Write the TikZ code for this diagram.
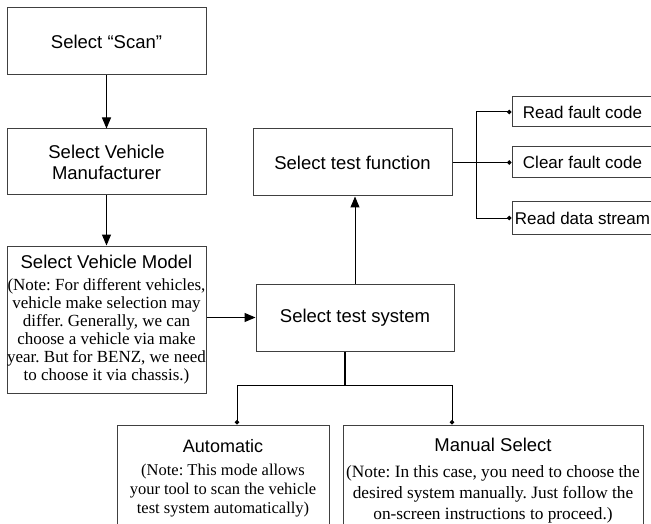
\documentclass[tikz,border=0pt]{standalone}
\usepackage{fontspec}
\setmainfont{Liberation Serif}
\newfontfamily\arialf{Liberation Sans}
\usetikzlibrary{arrows.meta,calc}
\frenchspacing
\newcommand\hdA{\arialf\fontsize{18.5}{21}\selectfont}
\newcommand\hdB{\arialf\fontsize{18}{21}\selectfont}
\newcommand\hdC{\arialf\fontsize{17}{20}\selectfont}
\newcommand\ntA{\fontsize{17}{18}\selectfont}
\newcommand\ntB{\fontsize{16.5}{19}\selectfont}
\newcommand\ntC{\fontsize{17.3}{21}\selectfont}
\begin{document}
\begin{tikzpicture}[x=1pt,y=-1pt,
  box/.style={draw=black!75,line width=1pt,inner sep=0pt,align=center},
  arr/.style={draw=black,line width=1pt,-{Triangle[length=11pt,width=9pt]}},
  dotline/.style={draw=black,line width=1pt,-{Circle[length=4.5pt]}},
  plain/.style={draw=black,line width=1.1pt}]
\clip (0,0) rectangle (651,524);
\fill[white] (0,0) rectangle (651,524);

\node[box,font=\hdA,minimum width=199,minimum height=67] (scan) at (106.5,41.5) {Select “Scan”};
\node[box,font=\hdA,minimum width=199,minimum height=66] (manu) at (106.5,162) {Select Vehicle\\Manufacturer};
\node[box,font=\ntA,minimum width=199,minimum height=147] (model) at (106.5,319.5)
  {{\hdA Select Vehicle Model}\\[4pt]
   (Note: For different vehicles,\\
   vehicle make selection may\\
   differ. Generally, we can\\
   choose a vehicle via make\\
   year. But for BENZ, we need\\
   to choose it via chassis.)};
\node[box,font=\hdA,minimum width=199,minimum height=67] (func) at (352.5,162.5) {Select test function};
\node[box,font=\hdA,minimum width=198,minimum height=67] (sys) at (355,317.5) {Select test system};

\node[box,font=\hdC,minimum width=141,minimum height=30] (rfc) at (582.5,112) {Read fault code};
\node[box,font=\hdC,minimum width=141,minimum height=31] (cfc) at (582.5,162.5) {Clear fault code};
\node[box,font=\hdC,minimum width=141,minimum height=32] (rds) at (582.5,218) {Read data stream};

\node[box,font=\ntB,minimum width=212,minimum height=106] (auto) at (223,478)
  {{\hdB Automatic}\\[4pt]
   (Note: This mode allows\\
   your tool to scan the vehicle\\
   test system automatically)};
\node[box,font=\ntC,minimum width=300,minimum height=112] (man) at (493,481)
  {{\hdA Manual Select}\\[5pt]
   (Note: In this case, you need to choose the\\
   desired system manually. Just follow the\\
   on-screen instructions to proceed.)};

\draw[arr] (scan.south) -- (manu.north);
\draw[arr] (manu.south) -- (model.north);
\draw[arr] (sys.west -| model.east) -- (sys.west);
\draw[arr] (sys.north) -- (sys.north |- func.south);

\coordinate (bus) at (476,162.5);
\draw[dotline] (func.east) -- (bus) |- (rfc.west);
\draw[dotline] (func.east) -- (cfc.west);
\draw[dotline] (bus) |- (rds.west);

\coordinate (j) at (345,385);
\draw[plain] (sys.south -| j) -- (j);
\draw[dotline] (j) -| ([xshift=14pt]auto.north);
\draw[dotline] (j) -| ([xshift=-41pt]man.north);
\end{tikzpicture}
\end{document}
